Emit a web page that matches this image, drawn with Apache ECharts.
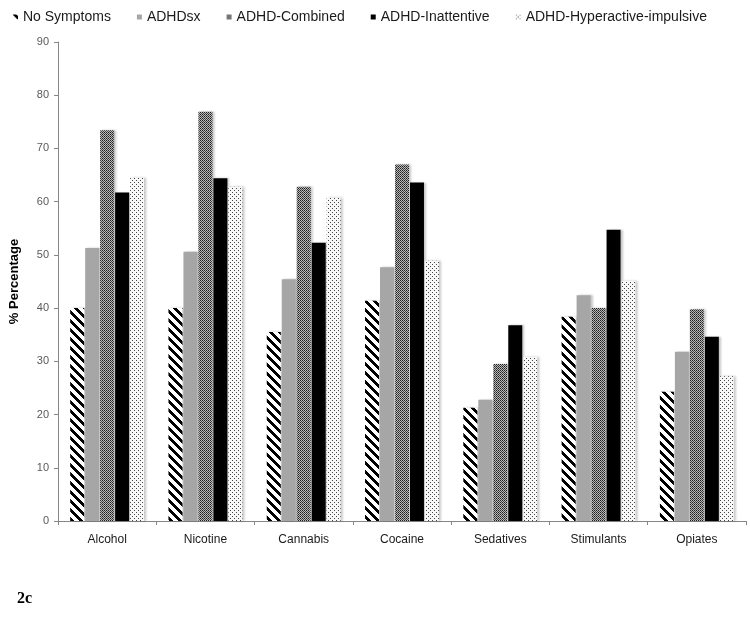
<!DOCTYPE html>
<html>
<head>
<meta charset="utf-8">
<script src="https://cdn.jsdelivr.net/npm/echarts@6/dist/echarts.min.js"></script>
<style>
html,body{margin:0;padding:0;background:#fff;}
#chart{width:750px;height:632px;}
</style>
</head>
<body>
<div id="chart"></div>
<script>
// ---- data ----
var categories = ['Alcohol', 'Nicotine', 'Cannabis', 'Cocaine', 'Sedatives', 'Stimulants', 'Opiates'];
var seriesNames = ['No Symptoms', 'ADHDsx', 'ADHD-Combined', 'ADHD-Inattentive', 'ADHD-Hyperactive-impulsive'];
var noSymptoms   = [40.0, 40.0, 35.5, 41.4, 21.3, 38.4, 24.3];
var adhdSx       = [51.3, 50.6, 45.4, 47.7, 22.8, 42.4, 31.8];
var adhdCombined = [73.4, 76.9, 62.8, 67.0, 29.5, 40.0, 39.8];
var adhdInatt    = [61.7, 64.4, 52.3, 63.6, 36.8, 54.7, 34.6];
var adhdHyper    = [64.5, 62.8, 60.8, 48.9, 30.8, 45.1, 27.2];
var yTicks = [0, 10, 20, 30, 40, 50, 60, 70, 80, 90];

// ---- patterns ----
function makePattern(w, h, fn) {
  var c = document.createElement('canvas');
  c.width = w; c.height = h;
  var ctx = c.getContext('2d');
  var img = ctx.createImageData(w, h);
  for (var y = 0; y < h; y++) {
    for (var x = 0; x < w; x++) {
      var v = fn(x, y);
      var i = (y * w + x) * 4;
      img.data[i] = v; img.data[i + 1] = v; img.data[i + 2] = v; img.data[i + 3] = 255;
    }
  }
  ctx.putImageData(img, 0, 0);
  return c;
}
var stripe = makePattern(9, 9, function (x, y) {
  var d = ((x - y) % 9 + 9) % 9;
  return d < 4 ? 0 : 255;
});
var checker = makePattern(4, 4, function (x, y) {
  if ((x + y) % 2 === 0) return (x % 2 === 0) ? 30 : 70;
  return 185;
});
var dots = makePattern(4, 4, function (x, y) {
  if ((x === 0 && y === 0) || (x === 2 && y === 2)) return 70;
  return 248;
});

var fills = [
  { image: stripe, repeat: 'repeat' },
  '#a6a6a6',
  { image: checker, repeat: 'repeat' },
  '#000000',
  { image: dots, repeat: 'repeat' }
];
var seriesData = [noSymptoms, adhdSx, adhdCombined, adhdInatt, adhdHyper];

var chart = echarts.init(document.getElementById('chart'), null, { renderer: 'canvas' });

var series = seriesNames.map(function (name, i) {
  return {
    name: name,
    type: 'bar',
    data: seriesData[i],
    barWidth: 14,
    barGap: '7%',
    itemStyle: {
      color: fills[i],
      shadowColor: 'rgba(0,0,0,0.22)',
      shadowBlur: 2,
      shadowOffsetX: 2
    },
    emphasis: { disabled: true }
  };
});

chart.setOption({
  animation: false,
  backgroundColor: '#ffffff',
  legend: {
    data: seriesNames,
    left: 8,
    top: 5,
    icon: 'rect',
    itemWidth: 5,
    itemHeight: 5,
    itemGap: 26,
    textStyle: {
      fontFamily: 'Liberation Sans, Arial, sans-serif',
      fontSize: 14,
      color: '#1a1a1a'
    }
  },
  grid: { left: 58, right: 4, top: 42, bottom: 111, containLabel: false },
  xAxis: {
    type: 'category',
    data: categories,
    axisLine: { lineStyle: { color: '#868686', width: 1 } },
    axisTick: { show: true, length: 4, lineStyle: { color: '#868686' } },
    axisLabel: {
      fontFamily: 'Liberation Sans, Arial, sans-serif',
      fontSize: 12,
      color: '#1a1a1a',
      margin: 13
    }
  },
  yAxis: {
    type: 'value',
    min: 0,
    max: 90,
    interval: 10,
    name: '% Percentage',
    nameLocation: 'middle',
    nameGap: 37,
    nameTextStyle: {
      fontFamily: 'Liberation Sans, Arial, sans-serif',
      fontSize: 13,
      fontWeight: 'bold',
      color: '#000000'
    },
    axisLine: { show: true, lineStyle: { color: '#868686', width: 1 } },
    axisTick: { show: true, length: 4, lineStyle: { color: '#868686' } },
    splitLine: { show: false },
    axisLabel: {
      fontFamily: 'Liberation Sans, Arial, sans-serif',
      fontSize: 11,
      color: '#595959',
      margin: 9,
      formatter: function (v) { return yTicks.indexOf(v) >= 0 ? String(v) : ''; }
    }
  },
  graphic: [{
    type: 'text',
    left: 17,
    top: 591,
    style: {
      text: '2c',
      font: 'bold 16px "Liberation Serif", "Times New Roman", serif',
      fill: '#000000'
    }
  }],
  series: series
});
</script>
</body>
</html>
